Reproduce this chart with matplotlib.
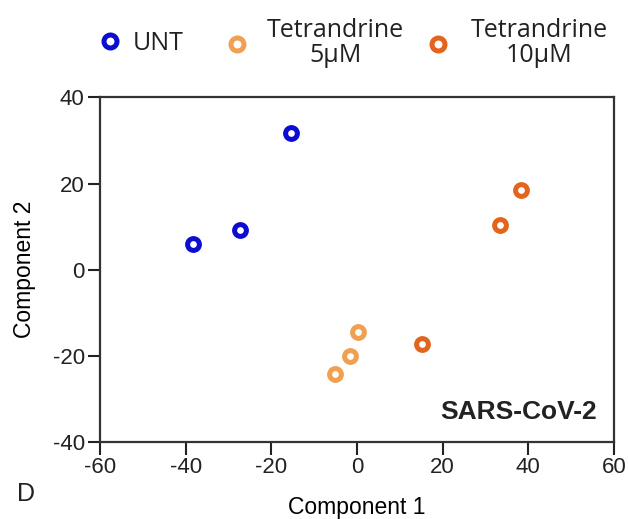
import numpy as np
import matplotlib.pyplot as plt

plt.rcParams['font.family'] = ['Liberation Sans', 'DejaVu Sans']
plt.rcParams['axes.unicode_minus'] = False

# PCA scores
groups = ["UNT", "Tetrandrine\n5µM", "Tetrandrine\n10µM"]
colors = ["#0c0cd2", "#f0a050", "#e2641e"]
comp1 = [
    [-38.3, -27.3, -15.4],
    [0.3, -1.6, -5.1],
    [15.1, 33.4, 38.3],
]
comp2 = [
    [6.0, 9.3, 31.8],
    [-14.5, -20.0, -24.2],
    [-17.2, 10.4, 18.5],
]

W, H = 628, 519
fig = plt.figure(figsize=(W / 100, H / 100), dpi=100)
ax = fig.add_axes([100 / W, 1 - 442 / H, 514 / W, 344.5 / H])

handles = []
for g, c, xs, ys in zip(groups, colors, comp1, comp2):
    h, = ax.plot(xs, ys, linestyle="none", marker="o", ms=8.5, mew=3.6,
                 mfc="white", mec=c, label=g)
    handles.append(h)

ax.set_xlim(-60, 60)
ax.set_ylim(-40, 40)
ax.set_xticks([-60, -40, -20, 0, 20, 40, 60])
ax.set_yticks([-40, -20, 0, 20, 40])
ax.tick_params(direction="out", length=9, width=1.5, pad=2, labelsize=16,
               colors="#222222")
for s in ax.spines.values():
    s.set_linewidth(1.6)
    s.set_color("#333333")

ax.set_xlabel("Component 1", fontsize=16.5, labelpad=13)
ax.set_ylabel("Component 2", fontsize=16.5, labelpad=12)

fig.text(597 / W, 1 - 412 / H, "SARS-CoV-2", ha="right", va="center",
         fontsize=19, fontweight="bold", color="#222222")
fig.text(17 / W, 1 - 494 / H, "D", fontsize=18, ha="left", va="center",
         color="#222222")

# legend entries sit at uneven spacing, one small legend per entry
marker_x = [110, 237, 438]
text_pad = [0.52, 0.8, 0.92]
for h, mx, tp in zip(handles, marker_x, text_pad):
    leg = fig.legend(handles=[h], loc="center left",
                     bbox_to_anchor=((mx - 10) / W, 1 - 43 / H),
                     frameon=False, fontsize=18, borderpad=0, borderaxespad=0,
                     handlelength=0.8, handletextpad=tp, markerscale=1.1)
    for t in leg.get_texts():
        t.set_multialignment("center")
        t.set_family(["Open Sans", "DejaVu Sans"])
        t.set_color("#222222")
        t.set_linespacing(1.05)

fig.savefig("out.png", dpi=100)
